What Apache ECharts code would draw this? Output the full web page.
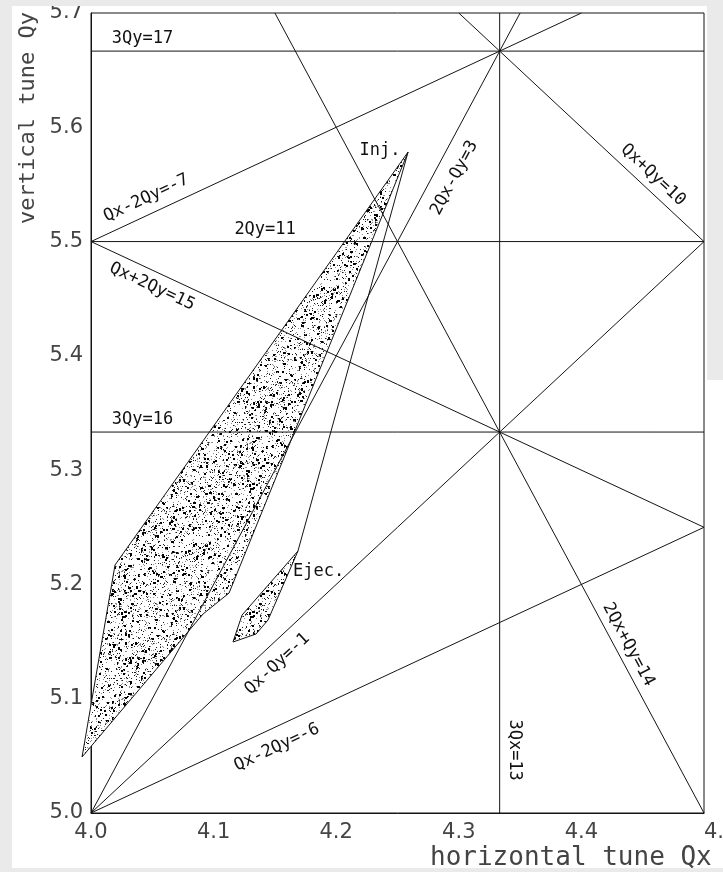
<!DOCTYPE html>
<html>
<head>
<meta charset="utf-8">
<script src="https://cdn.jsdelivr.net/npm/echarts@6/dist/echarts.min.js"></script>
<style>
  html, body { margin: 0; padding: 0; background: #ffffff; }
  #chart { width: 723px; height: 872px; }
</style>
</head>
<body>
<div id="chart"></div>
<script>
// Tick values of the tune axes
const qxTicks = [4.0, 4.1, 4.2, 4.3, 4.4, 4.5];
const qyTicks = [5.0, 5.1, 5.2, 5.3, 5.4, 5.5, 5.6, 5.7];

// Resonance lines  a*Qx + b*Qy = c
const resonanceNames = ['3Qy=17', '2Qy=11', '3Qy=16', '3Qx=13', 'Qx-2Qy=-7', 'Qx+2Qy=15',
                        '2Qx-Qy=3', 'Qx+Qy=10', 'Qx-Qy=-1', 'Qx-2Qy=-6', '2Qx+Qy=14'];
const resonanceA = [0, 0, 0, 3, 1, 1, 2, 1, 1, 1, 2];
const resonanceB = [3, 2, 3, 0, -2, 2, -1, 1, -1, -2, 1];
const resonanceC = [17, 11, 16, 13, -7, 15, 3, 10, -1, -6, 14];

// Tune footprint at injection
const injQx = [4.2586, 4.0253, 4.0196, 3.9927, 4.0914, 4.1126];
const injQy = [5.5783, 5.2257, 5.2170, 5.0490, 5.1741, 5.1925];

// Tune footprint at ejection
const ejeQx = [4.1688, 4.1232, 4.1158, 4.1346, 4.1444];
const ejeQy = [5.2292, 5.1732, 5.1496, 5.1566, 5.1689];

// Working point path from injection to ejection
const pathQx = [4.2586, 4.1688];
const pathQy = [5.5783, 5.2292];

// Where each resonance name sits along its line (Qx, or Qy for vertical lines)
// and its distance from the line in pixels (positive = upper/right side)
const labelAt = [4.042, 4.142, 4.042, 5.055, 4.0506, 4.055, 4.282, 4.4507, 4.142, 4.145, 4.429];
const labelGap = [13, 12, 12, 15, 16, -15, -20, 14, -18, -19, 13];

const X0 = qxTicks[0], X1 = qxTicks[qxTicks.length - 1];
const Y0 = qyTicks[0], Y1 = qyTicks[qyTicks.length - 1];

// Clip a resonance line to the tune box
function clipLine(a, b, c) {
  const pts = [];
  const eps = 1e-9;
  if (b !== 0) {
    [X0, X1].forEach(x => {
      const y = (c - a * x) / b;
      if (y >= Y0 - eps && y <= Y1 + eps) pts.push([x, y]);
    });
  }
  if (a !== 0) {
    [Y0, Y1].forEach(y => {
      const x = (c - b * y) / a;
      if (x >= X0 - eps && x <= X1 + eps) pts.push([x, y]);
    });
  }
  let best = [pts[0], pts[1]], bd = -1;
  for (let i = 0; i < pts.length; i++) {
    for (let j = i + 1; j < pts.length; j++) {
      const d = Math.hypot(pts[i][0] - pts[j][0], pts[i][1] - pts[j][1]);
      if (d > bd) { bd = d; best = [pts[i], pts[j]]; }
    }
  }
  return best;
}

function pointOnLine(i, t) {
  const a = resonanceA[i], b = resonanceB[i], c = resonanceC[i];
  if (b !== 0) return [t, (c - a * t) / b];
  return [c / a, t];
}

// Stipple texture for the footprint areas
function makeStipple() {
  const s = 128;
  const cv = document.createElement('canvas');
  cv.width = s; cv.height = s;
  const g = cv.getContext('2d');
  g.fillStyle = '#ffffff';
  g.fillRect(0, 0, s, s);
  let h = 917331;
  const next = () => { h = (Math.imul(h, 1664525) + 1013904223) >>> 0; return h / 4294967296; };
  for (let y = 0; y < s; y++) {
    for (let x = 0; x < s; x++) {
      const r = next();
      if (r < 0.055) { g.fillStyle = '#1a1a1a'; g.fillRect(x, y, 1, 1); }
      else if (r < 0.115) { g.fillStyle = '#8c8c8c'; g.fillRect(x, y, 1, 1); }
      else if (r < 0.127) { g.fillStyle = '#000'; g.fillRect(x, y, 2, 2); }
      else if (r < 0.131) { g.fillStyle = '#000'; g.fillRect(x, y, 3, 2); }
      else if (r < 0.134) { g.fillStyle = '#000'; g.fillRect(x, y, 2, 3); }
    }
  }
  return cv;
}
const stipple = makeStipple();

const lineColor = '#141414';
const labelFont = '17px "DejaVu Sans Mono"';

function polygonSeries(qx, qy) {
  return {
    type: 'custom',
    coordinateSystem: 'cartesian2d',
    clip: false,
    z: 1,
    silent: true,
    data: qx.map((x, i) => [x, qy[i]]),
    renderItem: function (params, api) {
      if (params.dataIndex !== 0) return null;
      const pts = qx.map((x, i) => api.coord([x, qy[i]]));
      return {
        type: 'polygon',
        shape: { points: pts },
        style: { fill: { image: stipple, repeat: 'repeat' }, stroke: lineColor, lineWidth: 1 }
      };
    }
  };
}

const series = [];
series.push(polygonSeries(injQx, injQy));
series.push(polygonSeries(ejeQx, ejeQy));

resonanceNames.forEach((name, i) => {
  series.push({
    type: 'line',
    name: name,
    data: clipLine(resonanceA[i], resonanceB[i], resonanceC[i]),
    symbol: 'none',
    silent: true,
    z: 3,
    lineStyle: { color: lineColor, width: 1 },
    animation: false
  });
});

series.push({
  type: 'line',
  data: pathQx.map((x, i) => [x, pathQy[i]]),
  symbol: 'none',
  silent: true,
  z: 3,
  lineStyle: { color: lineColor, width: 1 }
});

// Resonance names written along their lines
series.push({
  type: 'custom',
  coordinateSystem: 'cartesian2d',
  clip: false,
  z: 5,
  silent: true,
  data: resonanceNames.map((n, i) => pointOnLine(i, labelAt[i])),
  renderItem: function (params, api) {
    const i = params.dataIndex;
    const p = api.coord([api.value(0), api.value(1)]);
    const seg = clipLine(resonanceA[i], resonanceB[i], resonanceC[i]);
    const p1 = api.coord(seg[0]), p2 = api.coord(seg[1]);
    let ang = Math.atan2(-(p2[1] - p1[1]), p2[0] - p1[0]);
    if (ang >= Math.PI / 2 - 1e-6) ang -= Math.PI;
    if (ang < -Math.PI / 2 - 1e-6) ang += Math.PI;
    const nx = -Math.sin(ang), ny = -Math.cos(ang);
    const d = labelGap[i];
    return {
      type: 'text',
      x: p[0] + d * nx,
      y: p[1] + d * ny,
      rotation: ang,
      style: { text: resonanceNames[i], font: labelFont, fill: '#111', align: 'center', verticalAlign: 'middle' }
    };
  }
});

// Footprint names
const footNames = ['Inj.', 'Ejec.'];
const footShift = [[-28, -2, 'center'], [-5, 21, 'left']];
series.push({
  type: 'custom',
  coordinateSystem: 'cartesian2d',
  clip: false,
  z: 5,
  silent: true,
  data: [[injQx[0], injQy[0]], [ejeQx[0], ejeQy[0]]],
  renderItem: function (params, api) {
    const i = params.dataIndex;
    const p = api.coord([api.value(0), api.value(1)]);
    return {
      type: 'text',
      x: p[0] + footShift[i][0],
      y: p[1] + footShift[i][1],
      style: { text: footNames[i], font: labelFont, fill: '#111', align: footShift[i][2], verticalAlign: 'middle' }
    };
  }
});

const chart = echarts.init(document.getElementById('chart'), null, { renderer: 'canvas' });
chart.setOption({
  animation: false,
  backgroundColor: '#ffffff',
  grid: {
    left: 91, right: 19, top: 13, bottom: 59,
    containLabel: false, outerBoundsMode: 'none',
    show: true, borderColor: lineColor, borderWidth: 1
  },
  xAxis: {
    type: 'value', min: X0, max: X1,
    axisLine: { show: true, lineStyle: { color: lineColor } },
    axisTick: { show: false },
    splitLine: { show: false },
    axisLabel: {
      customValues: qxTicks,
      formatter: v => v.toFixed(1),
      fontFamily: 'DejaVu Sans', fontSize: 21, color: '#444', margin: 9,
      showMaxLabel: true, alignMaxLabel: 'left'
    }
  },
  yAxis: {
    type: 'value', min: Y0, max: Y1,
    axisLine: { show: true, lineStyle: { color: lineColor } },
    axisTick: { show: false },
    splitLine: { show: false },
    axisLabel: {
      customValues: qyTicks,
      formatter: v => v.toFixed(1),
      fontFamily: 'DejaVu Sans', fontSize: 21, color: '#444', margin: 8, showMaxLabel: true
    }
  },
  graphic: [
    { type: 'text', z: 50, rotation: Math.PI / 2, x: 28, y: 118,
      style: { text: 'vertical tune Qy', font: '22px "DejaVu Sans Mono"', fill: '#444', align: 'center', verticalAlign: 'middle' } },
    { type: 'text', x: 430, y: 858, z: 50,
      style: { text: 'horizontal tune Qx', font: '26px "DejaVu Sans Mono"', fill: '#444', align: 'left', verticalAlign: 'middle' } },
    { type: 'rect', z: 100, shape: { x: 0, y: 0, width: 723, height: 6 }, style: { fill: '#eaeaea' } },
    { type: 'rect', z: 100, shape: { x: 0, y: 0, width: 12, height: 872 }, style: { fill: '#eaeaea' } },
    { type: 'rect', z: 100, shape: { x: 0, y: 868, width: 723, height: 4 }, style: { fill: '#eaeaea' } },
    { type: 'rect', z: 100, shape: { x: 707, y: 0, width: 16, height: 380 }, style: { fill: '#eaeaea' } }
  ],
  series: series
});
</script>
</body>
</html>
